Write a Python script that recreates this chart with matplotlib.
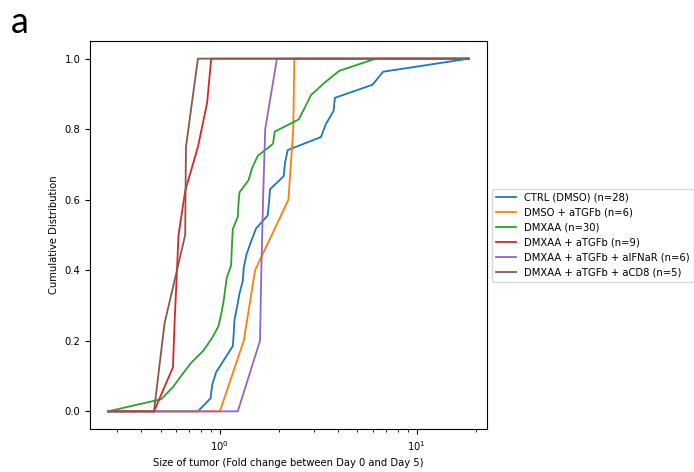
import numpy as np
import matplotlib
matplotlib.use("Agg")
import matplotlib.pyplot as plt

# fold change values per group, sorted
labels = ["CTRL (DMSO) (n=28)", "DMSO + aTGFb (n=6)", "DMXAA (n=30)",
          "DMXAA + aTGFb (n=9)", "DMXAA + aTGFb + aIFNaR (n=6)",
          "DMXAA + aTGFb + aCD8 (n=5)"]

ctrl = [0.774, 0.897, 0.914, 0.958, 1.056, 1.164, 1.177, 1.187, 1.224, 1.258,
        1.308, 1.323, 1.365, 1.441, 1.528, 1.751, 1.778, 1.799, 2.110, 2.143,
        2.211, 3.263, 3.459, 3.782, 3.842, 5.963, 6.751, 18.42]
dmso_tgfb = [1.0, 1.323, 1.51, 2.23, 2.36, 2.39]
dmxaa = [0.2706, 0.504, 0.578, 0.642, 0.716, 0.826, 0.911, 0.984, 1.016, 1.044,
         1.064, 1.085, 1.141, 1.148, 1.155, 1.164, 1.234, 1.243, 1.258, 1.398,
         1.458, 1.558, 1.863, 1.900, 2.514, 2.706, 2.903, 3.391, 4.041, 6.199]
dmxaa_tgfb = [0.463, 0.578, 0.589, 0.603, 0.617, 0.667, 0.774, 0.862, 0.904]
dmxaa_tgfb_ifnar = [1.234, 1.60, 1.625, 1.658, 1.70, 1.951]
dmxaa_tgfb_cd8 = [0.463, 0.524, 0.667, 0.673, 0.774]

groups = [ctrl, dmso_tgfb, dmxaa, dmxaa_tgfb, dmxaa_tgfb_ifnar, dmxaa_tgfb_cd8]

gmin = min(min(g) for g in groups)
gmax = max(max(g) for g in groups)

fig = plt.figure(figsize=(6.94, 4.72), dpi=100)
ax = fig.add_axes([0.1297, 0.0911, 0.572, 0.822])

for g, lab in zip(groups, labels):
    xs = np.concatenate([[gmin], np.sort(g), [gmax]])
    ys = np.concatenate([[0], np.linspace(0, 1, len(g)), [1]])
    ax.plot(xs, ys, label=lab, lw=1.3)

ax.set_xscale("log")
ax.set_xlabel("Size of tumor (Fold change between Day 0 and Day 5)", fontsize=7.2)
ax.set_ylabel("Cumulative Distribution", fontsize=7.2)
ax.tick_params(labelsize=7.2)
ax.legend(loc="center left", bbox_to_anchor=(1.0, 0.5), fontsize=7.2)

fig.text(0.015, 0.93, "a", fontsize=26, family="Lato")

fig.savefig("out.png", dpi=100)
